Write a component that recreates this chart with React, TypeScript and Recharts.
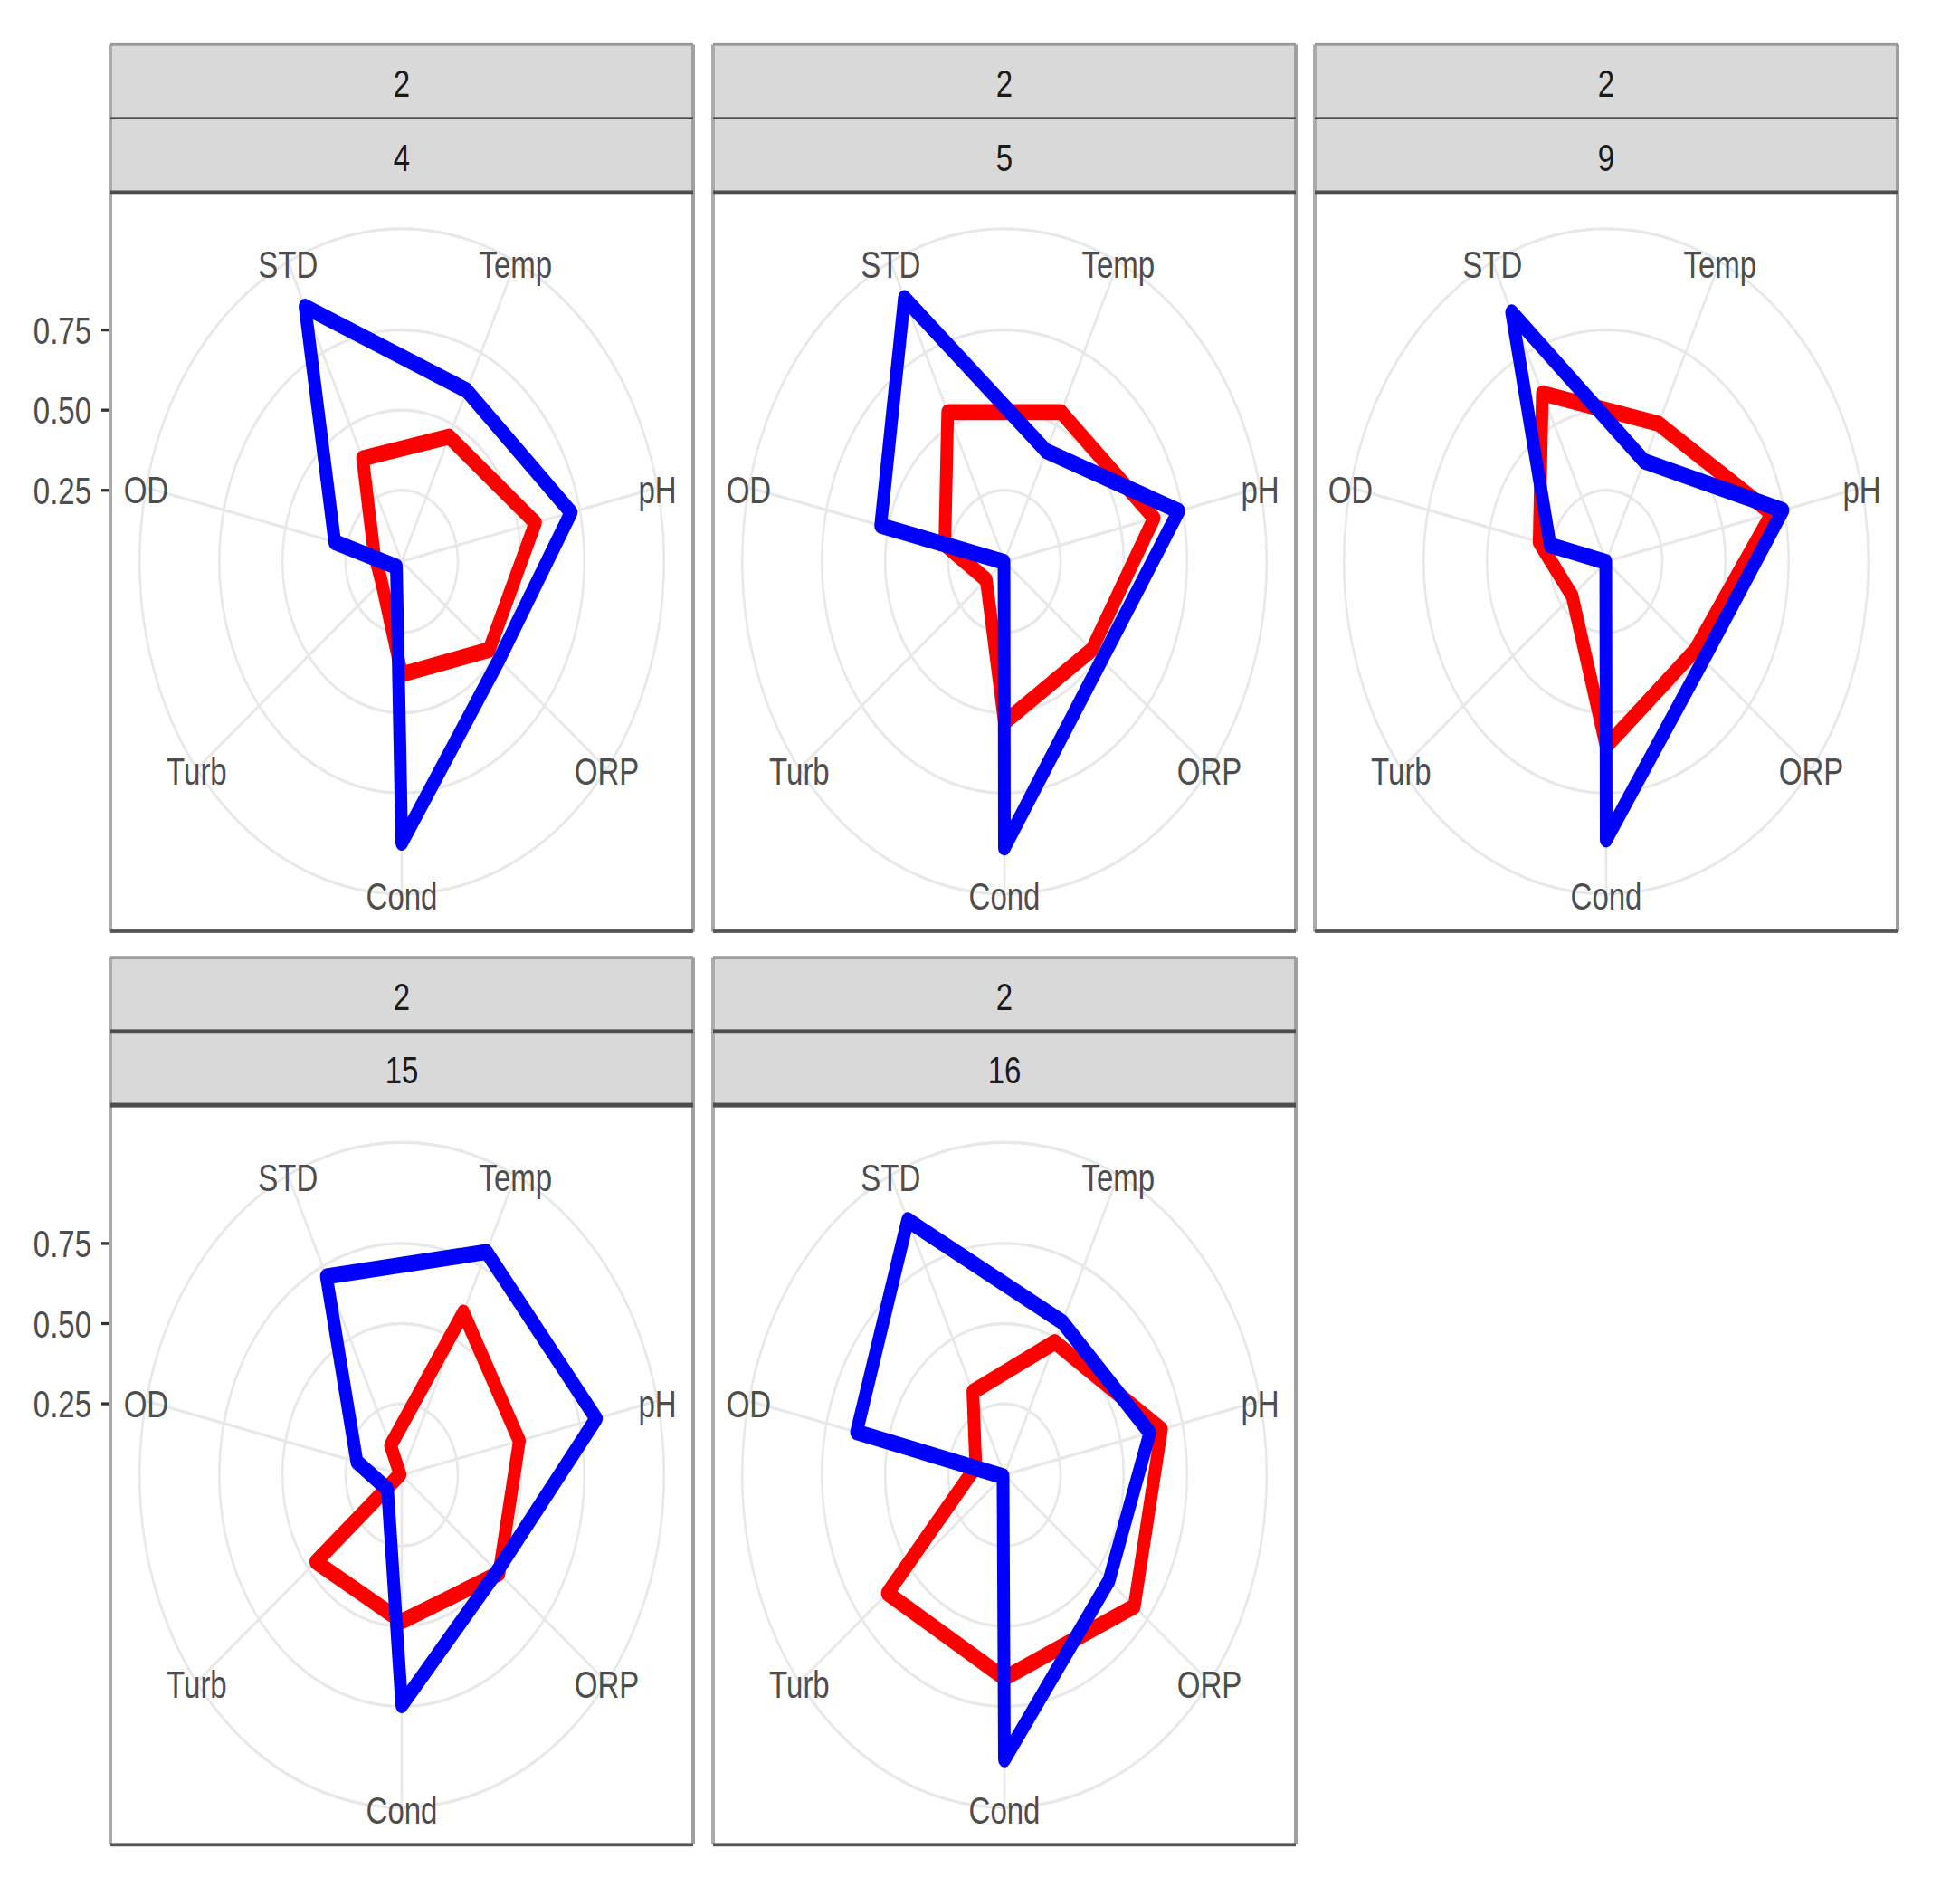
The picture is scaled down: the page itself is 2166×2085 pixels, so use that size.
import React from "react";
import { RadarChart, Radar, PolarGrid, PolarAngleAxis, PolarRadiusAxis } from "recharts";

// ---------- data ----------
const CATEGORIES = ["Cond", "Turb", "OD", "STD", "Temp", "pH", "ORP"];
const OUTER_STRIP = ["2", "2", "2", "2", "2"];
const INNER_STRIP = ["4", "5", "9", "15", "16"];

const RED_4 = [0.38, 0.13, 0.14, 0.385, 0.46, 0.57, 0.47];
const BLUE_4 = [0.905, 0.055, 0.3, 0.91, 0.62, 0.715, 0.52];
const RED_5 = [0.53, 0.12, 0.27, 0.545, 0.545, 0.635, 0.47];
const BLUE_5 = [0.92, 0.03, 0.53, 0.94, 0.41, 0.735, 0.52];
const RED_9 = [0.605, 0.2, 0.3, 0.61, 0.505, 0.7, 0.475];
const BLUE_9 = [0.895, 0.03, 0.255, 0.89, 0.375, 0.745, 0.52];
const RED_15 = [0.485, 0.463, 0.035, 0.13, 0.59, 0.505, 0.52];
const BLUE_15 = [0.746, 0.1, 0.21, 0.715, 0.8, 0.817, 0.51];
const RED_16 = [0.662, 0.62, 0.144, 0.316, 0.488, 0.665, 0.685];
const BLUE_16 = [0.915, 0.035, 0.628, 0.91, 0.557, 0.618, 0.557];

const RED_SERIES = [RED_4, RED_5, RED_9, RED_15, RED_16];
const BLUE_SERIES = [BLUE_4, BLUE_5, BLUE_9, BLUE_15, BLUE_16];

const Y_TICKS = [0.25, 0.5, 0.75];
const RADIAL_MIN = 0.028; // lowest value across facets (centre of the radar)
const RADIAL_DATA_MAX = 0.95; // highest value across facets
const OUTER_VALUE = RADIAL_MIN + (RADIAL_DATA_MAX - RADIAL_MIN) * 1.125;

// ---------- layout (unstretched units) ----------
const STRETCH_Y = 1.268;
const PANEL_W = 644;
const STRIP_H = 64.3;
const PLOT_H = 644.5;
const COL_LEFT = [122, 788, 1453];
const ROW_TOP = [38.6, 834.4];
const OUTER_R = PANEL_W * 0.45;
const FONT = "'Liberation Sans', Arial, Helvetica, sans-serif";

// radial axis measures the value above the radar centre (RADIAL_MIN)
const RADIAL_SPAN = OUTER_VALUE - RADIAL_MIN;
const radiusOf = (v: number) => ((v - RADIAL_MIN) / RADIAL_SPAN) * OUTER_R;
const SHIFTED_TICKS = Y_TICKS.map((t) => t - RADIAL_MIN);

function makeAngleTick(cx: number, cy: number) {
  return (props: any) => {
    const { x, y, payload } = props;
    const dx = x - cx;
    const dy = y - cy;
    const d = Math.hypot(dx, dy) || 1;
    const px = cx + (dx / d) * OUTER_R;
    const py = cy + (dy / d) * OUTER_R + 2.5;
    return (
      <text
        x={px}
        y={py}
        textAnchor="middle"
        dominantBaseline="central"
        fontSize={33}
        fill="#4d4d4d"
        fontFamily={FONT}
      >
        {payload.value}
      </text>
    );
  };
}

function makeRadiusTick(show: boolean) {
  return (props: any) => {
    const { y, payload } = props;
    const value = Number(payload.value) + RADIAL_MIN;
    const isTick = Y_TICKS.some((t) => Math.abs(t - value) < 1e-6);
    if (!show || !isTick) return <g />;
    return (
      <g>
        <line x1={112} x2={120.5} y1={y} y2={y} stroke="#333333" strokeWidth={2.6} />
        <text
          x={101}
          y={y + 0.5}
          textAnchor="end"
          dominantBaseline="central"
          fontSize={33}
          fill="#4d4d4d"
          fontFamily={FONT}
        >
          {value.toFixed(2)}
        </text>
      </g>
    );
  };
}

function HLine({ x, y, w, color, t }: any) {
  return (
    <div
      style={{
        position: "absolute",
        left: x,
        top: y - t / 2,
        width: w,
        height: t,
        background: color,
      }}
    />
  );
}

function VLine({ x, y, h, color, t }: any) {
  return (
    <div
      style={{
        position: "absolute",
        left: x - t / 2,
        top: y,
        width: t,
        height: h,
        background: color,
      }}
    />
  );
}

function Strip({ x, y, label }: any) {
  return (
    <div
      style={{
        position: "absolute",
        left: x,
        top: y,
        width: PANEL_W,
        height: STRIP_H,
        background: "#d9d9d9",
        display: "flex",
        alignItems: "center",
        justifyContent: "center",
        fontFamily: FONT,
        fontSize: 33,
        color: "#1a1a1a",
        lineHeight: 1,
        boxSizing: "border-box",
        paddingTop: 4,
      }}
    >
      {label}
    </div>
  );
}

function Panel({ index }: { index: number }) {
  const col = index % 3;
  const row = Math.floor(index / 3);
  const left = COL_LEFT[col];
  const top = ROW_TOP[row];
  const showY = col === 0;
  const chartLeft = showY ? 0 : left;
  const chartW = showY ? left + PANEL_W : PANEL_W;
  const cx = showY ? left + PANEL_W / 2 : PANEL_W / 2;
  const cy = PLOT_H / 2;
  const red = RED_SERIES[index];
  const blue = BLUE_SERIES[index];
  const data = CATEGORIES.map((c, i) => ({
    axis: c,
    red: red[i] - RADIAL_MIN,
    blue: blue[i] - RADIAL_MIN,
  }));
  const gridValues = [...Y_TICKS, OUTER_VALUE];
  const plotTop = top + 2 * STRIP_H;

  return (
    <>
      <Strip x={left} y={top} label={OUTER_STRIP[index]} />
      <Strip x={left} y={top + STRIP_H} label={INNER_STRIP[index]} />
      <div style={{ position: "absolute", left: chartLeft, top: plotTop }}>
        <RadarChart
          width={chartW}
          height={PLOT_H}
          data={data}
          cx={cx}
          cy={cy}
          outerRadius={OUTER_R}
          innerRadius={0}
          startAngle={-90}
          endAngle={-450}
          margin={{ top: 0, right: 0, bottom: 0, left: 0 }}
        >
          <PolarGrid
            gridType="circle"
            polarRadius={gridValues.map(radiusOf)}
            stroke="#e8e8e8"
            strokeWidth={2.6}
          />
          <PolarRadiusAxis
            angle={90}
            type="number"
            scale="linear"
            domain={[0, RADIAL_SPAN]}
            allowDataOverflow={true}
            ticks={SHIFTED_TICKS}
            tickCount={4}
            axisLine={false}
            tickLine={false}
            tick={makeRadiusTick(showY)}
          />
          <PolarAngleAxis
            dataKey="axis"
            axisLine={false}
            tickLine={false}
            tick={makeAngleTick(cx, cy)}
          />
          <Radar
            dataKey="red"
            stroke="#ff0000"
            strokeWidth={14}
            strokeLinejoin="round"
            fill="none"
            fillOpacity={0}
            dot={false}
            isAnimationActive={false}
          />
          <Radar
            dataKey="blue"
            stroke="#0000ff"
            strokeWidth={14}
            strokeLinejoin="round"
            fill="none"
            fillOpacity={0}
            dot={false}
            isAnimationActive={false}
          />
        </RadarChart>
      </div>
      {/* frame */}
      <VLine x={left} y={top} h={2 * STRIP_H + PLOT_H} color="#ababab" t={3.5} />
      <VLine x={left + PANEL_W} y={top} h={2 * STRIP_H + PLOT_H} color="#a0a0a0" t={3.5} />
      <HLine x={left} y={top} w={PANEL_W} color="#9a9a9a" t={2.4} />
      <HLine x={left} y={top + STRIP_H} w={PANEL_W} color="#4d4d4d" t={2.8} />
      <HLine x={left} y={top + 2 * STRIP_H} w={PANEL_W} color="#4d4d4d" t={3.2} />
      <HLine x={left} y={plotTop + PLOT_H} w={PANEL_W} color="#555555" t={3.2} />
    </>
  );
}

export default function App() {
  return (
    <div
      style={{
        position: "absolute",
        left: 0,
        top: 0,
        width: 2166,
        height: 2085 / STRETCH_Y,
        background: "#ffffff",
        transform: `scaleY(${STRETCH_Y})`,
        transformOrigin: "0 0",
        overflow: "visible",
      }}
    >
      {INNER_STRIP.map((_, i) => (
        <Panel key={i} index={i} />
      ))}
    </div>
  );
}
